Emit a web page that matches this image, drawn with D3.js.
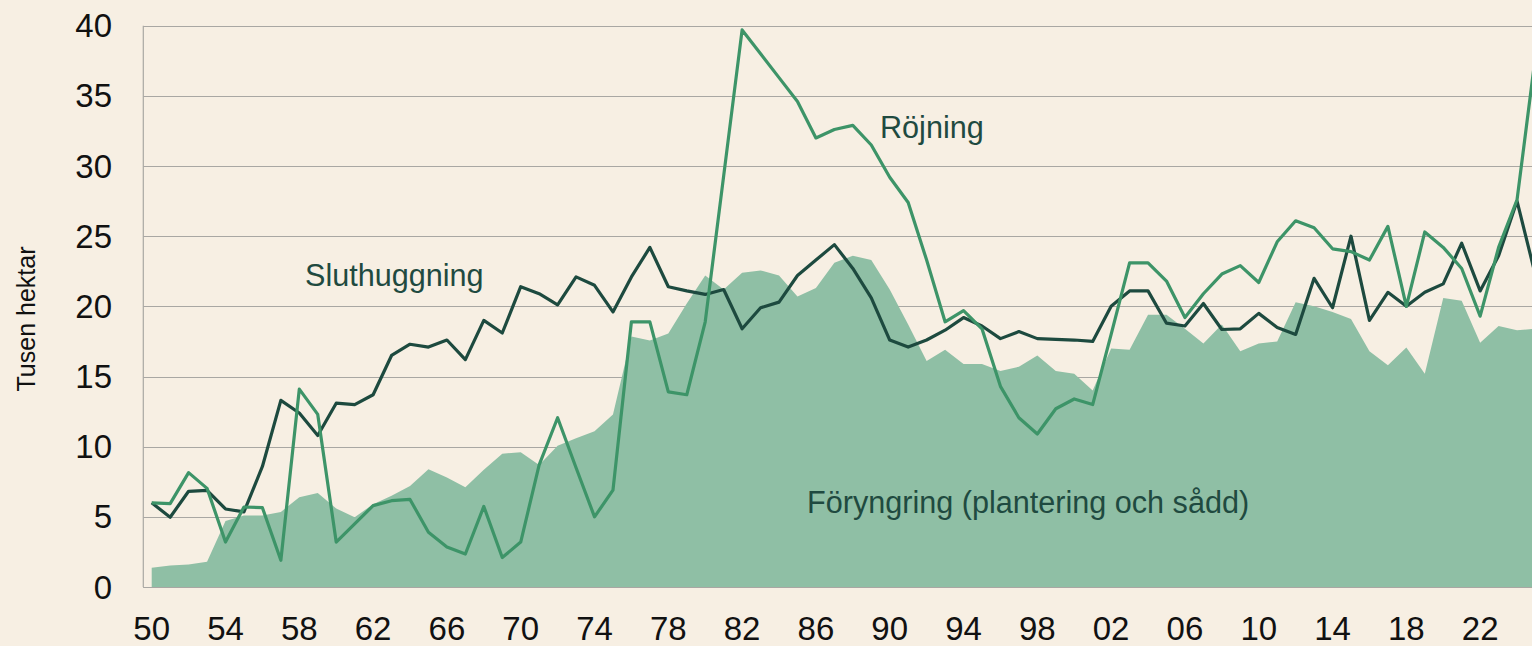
<!DOCTYPE html>
<html>
<head>
<meta charset="utf-8">
<script src="https://cdn.jsdelivr.net/npm/d3@7"></script>
<style>
    html, body { margin: 0; padding: 0; background: #f7efe3; overflow: hidden; }
    svg { display: block; font-family: "Liberation Sans", Arial, sans-serif; }
</style>
</head>
<body>
<svg id="chart" width="1532" height="646"></svg>
<script>
// years 1950 - 2025, values in tusen hektar
const years = d3.range(1950, 2026);

const sluthuggning = [
    6.0, 4.97, 6.82, 6.88, 5.56, 5.35, 8.59, 13.3, 12.4, 10.8,
    13.1, 13.0, 13.7, 16.5, 17.3, 17.1, 17.6, 16.2, 19.0, 18.1,
    21.4, 20.9, 20.1, 22.1, 21.5, 19.6, 22.1, 24.2, 21.4, 21.1,
    20.85, 21.2, 18.4, 19.9, 20.3, 22.2, 23.3, 24.4, 22.7, 20.6,
    17.6, 17.1, 17.6, 18.3, 19.2, 18.6, 17.7, 18.2, 17.7, 17.65,
    17.6, 17.5, 20.0, 21.1, 21.1, 18.8, 18.6, 20.2, 18.35, 18.4,
    19.5, 18.5, 18.0, 22.0, 19.9, 25.0, 19.0, 21.0, 20.0, 21.0,
    21.6, 24.5, 21.1, 23.6, 27.5, 22.2
];

const rojning = [
    6.0, 5.94, 8.15, 7.03, 3.2, 5.7, 5.65, 1.9, 14.1, 12.3,
    3.2, 4.5, 5.8, 6.15, 6.24, 3.9, 2.85, 2.35, 5.74, 2.1,
    3.2, 8.7, 12.06, 8.5, 5.0, 6.9, 18.9, 18.9, 13.9, 13.7,
    18.9, 29.3, 39.7, 38.0, 36.3, 34.6, 32.0, 32.6, 32.9, 31.5,
    29.2, 27.4, 23.3, 18.9, 19.7, 18.4, 14.3, 12.06, 10.9, 12.7,
    13.4, 13.0, 18.0, 23.1, 23.1, 21.8, 19.2, 20.9, 22.3, 22.9,
    21.7, 24.6, 26.1, 25.6, 24.1, 23.9, 23.3, 25.7, 20.0, 25.3,
    24.2, 22.7, 19.3, 24.2, 27.6, 37.9
];

const foryngring = [
    1.38, 1.53, 1.6, 1.8, 4.7, 5.1, 5.1, 5.35, 6.4, 6.7,
    5.6, 4.97, 5.9, 6.5, 7.2, 8.4, 7.8, 7.1, 8.35, 9.5,
    9.6, 8.7, 10.06, 10.6, 11.1, 12.3, 17.85, 17.56, 18.06, 20.2,
    22.2, 21.2, 22.4, 22.56, 22.2, 20.7, 21.3, 23.1, 23.6, 23.3,
    21.2, 18.7, 16.1, 16.9, 15.9, 15.9, 15.4, 15.7, 16.5, 15.4,
    15.2, 14.0, 17.0, 16.9, 19.4, 19.4, 18.4, 17.35, 18.7, 16.8,
    17.35, 17.5, 20.3, 20.0, 19.6, 19.1, 16.8, 15.8, 17.06, 15.2,
    20.6, 20.4, 17.4, 18.6, 18.3, 18.4
];

const yTicks = [0, 5, 10, 15, 20, 25, 30, 35, 40];
const xTicks = d3.range(1950, 2025, 4);

const COLOR_BG = '#f7efe3';
const COLOR_AREA = '#8fbfa5';
const COLOR_ROJ = '#3d9468';
const COLOR_SLUT = '#1d4a3f';
const COLOR_LABEL = '#1f4a40';
const COLOR_GRID = '#a9a7a3';

const WIDTH = 1532;
const HEIGHT = 646;
const PLOT_LEFT = 143.3;

const svg = d3.select('#chart');

svg.append('rect')
    .attr('width', WIDTH)
    .attr('height', HEIGHT)
    .attr('fill', COLOR_BG);

const x = d3.scaleLinear().domain([1950, 2025]).range([151.7, 1535.5]);
const y = d3.scaleLinear().domain([0, 40]).range([587, 25.7]);

const rows = years.map((yr, i) => ({
    year: yr,
    slut: sluthuggning[i],
    roj: rojning[i],
    fory: foryngring[i],
}));

// grid
const grid = svg.append('g');
grid.selectAll('line')
    .data(yTicks)
    .enter()
    .append('line')
    .attr('x1', PLOT_LEFT)
    .attr('x2', WIDTH)
    .attr('y1', d => Math.round(y(d)) + 0.5)
    .attr('y2', d => Math.round(y(d)) + 0.5)
    .attr('stroke', COLOR_GRID)
    .attr('stroke-width', 1.2);

grid.append('line')
    .attr('x1', PLOT_LEFT)
    .attr('x2', PLOT_LEFT)
    .attr('y1', y(40))
    .attr('y2', y(0))
    .attr('stroke', COLOR_GRID)
    .attr('stroke-width', 1.2);

// area
const area = d3.area()
    .x(d => x(d.year))
    .y0(y(0))
    .y1(d => y(d.fory));

svg.append('path')
    .datum(rows)
    .attr('d', area)
    .attr('fill', COLOR_AREA);

// bottom line over the area
svg.append('line')
    .attr('x1', PLOT_LEFT)
    .attr('x2', WIDTH)
    .attr('y1', Math.round(y(0)) + 0.5)
    .attr('y2', Math.round(y(0)) + 0.5)
    .attr('stroke', COLOR_GRID)
    .attr('stroke-width', 1.2);

const lineOf = key => d3.line()
    .x(d => x(d.year))
    .y(d => y(d[key]));

svg.append('path')
    .datum(rows)
    .attr('d', lineOf('slut'))
    .attr('fill', 'none')
    .attr('stroke', COLOR_SLUT)
    .attr('stroke-width', 3.2)
    .attr('stroke-linejoin', 'round');

svg.append('path')
    .datum(rows)
    .attr('d', lineOf('roj'))
    .attr('fill', 'none')
    .attr('stroke', COLOR_ROJ)
    .attr('stroke-width', 3.2)
    .attr('stroke-linejoin', 'round');

// axis labels
svg.append('g')
    .selectAll('text')
    .data(yTicks)
    .enter()
    .append('text')
    .attr('x', 112)
    .attr('y', d => y(d))
    .attr('dy', '0.35em')
    .attr('text-anchor', 'end')
    .attr('font-size', 33)
    .attr('fill', '#111')
    .text(d => d);

svg.append('g')
    .selectAll('text')
    .data(xTicks)
    .enter()
    .append('text')
    .attr('x', d => x(d))
    .attr('y', 640)
    .attr('text-anchor', 'middle')
    .attr('font-size', 33)
    .attr('fill', '#111')
    .text(d => String(d % 100).padStart(2, '0'));

svg.append('text')
    .attr('transform', 'translate(35,319) rotate(-90)')
    .attr('text-anchor', 'middle')
    .attr('font-size', 25)
    .attr('fill', '#111')
    .text('Tusen hektar');

// series labels
const labels = [
    {text: 'Sluthuggning', x: 305, y: 286},
    {text: 'Röjning', x: 880, y: 138},
    {text: 'Föryngring (plantering och sådd)', x: 807, y: 513},
];

svg.append('g')
    .selectAll('text')
    .data(labels)
    .enter()
    .append('text')
    .attr('x', d => d.x)
    .attr('y', d => d.y)
    .attr('font-size', 30.6)
    .attr('fill', COLOR_LABEL)
    .text(d => d.text);
</script>
</body>
</html>
